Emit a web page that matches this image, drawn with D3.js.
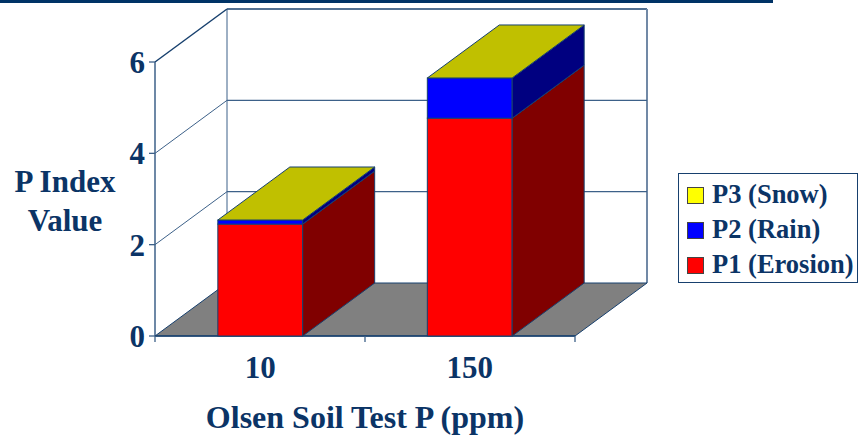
<!DOCTYPE html>
<html>
<head>
<meta charset="utf-8">
<script src="https://cdn.jsdelivr.net/npm/d3@7"></script>
<style>
  html, body { margin: 0; padding: 0; background: #fff; }
  svg { display: block; }
</style>
</head>
<body>
<svg id="chart" width="859" height="437"></svg>
<script>
// Olsen soil test P categories and stacked P index components
const categories = ["10", "150"];
const seriesNames = ["P1 (Erosion)", "P2 (Rain)", "P3 (Snow)"];
const p1Erosion = [2.45, 4.77];
const p2Rain = [0.09, 0.88];
const p3Snow = [0.0, 0.0];
const yTicks = [0, 2, 4, 6];

const seriesValues = [p1Erosion, p2Rain, p3Snow];
const frontColors = ["#ff0000", "#0000ff", "#ffff00"];
const sideColors = ["#800000", "#000080", "#808000"];
const topColors = ["#c00000", "#0000c0", "#c0c000"];

const svg = d3.select("#chart");
const textFill = "#0b3466";
const ink = "#17406e";
const grid = "#3d6189";

// front plane of the plot and the depth offset of the 3-D box
const x0 = 155, x1 = 575, yBase = 336, yTop = 62;
const dx = 72, dy = -53;

const y = d3.scaleLinear().domain([0, 6]).range([yBase, yTop]);
const x = d3.scaleBand().domain(categories).range([x0, x1])
  .paddingInner(0.595).paddingOuter(0.3);
const xEdge = d3.scaleLinear().domain([0, categories.length]).range([x0, x1]);

function label(px, py, size, anchor, str) {
  return svg.append("text").attr("x", px).attr("y", py)
    .style("font-family", "Liberation Serif")
    .style("font-weight", "bold")
    .style("font-size", size + "px")
    .style("fill", textFill)
    .attr("text-anchor", anchor).text(str);
}

// top rule
svg.append("rect").attr("x", 0).attr("y", 0).attr("width", 773).attr("height", 3).attr("fill", "#003366");

const pt = (px, py) => px + "," + py;

// back wall
svg.append("line").attr("x1", x0 + dx).attr("y1", y(6) + dy).attr("x2", x1 + dx).attr("y2", y(6) + dy)
  .attr("stroke", ink).attr("stroke-width", 1.5);
svg.append("line").attr("x1", x1 + dx).attr("y1", y(6) + dy).attr("x2", x1 + dx).attr("y2", y(0) + dy)
  .attr("stroke", "#7189a6").attr("stroke-width", 2);
svg.append("line").attr("x1", x0 + dx).attr("y1", y(6) + dy).attr("x2", x0 + dx).attr("y2", y(0) + dy)
  .attr("stroke", grid).attr("stroke-width", 1);

// gridlines: across the back wall and along the left wall
yTicks.filter(t => t > 0 && t < 6).forEach(t => {
  svg.append("line").attr("x1", x0 + dx).attr("y1", y(t) + dy).attr("x2", x1 + dx).attr("y2", y(t) + dy)
    .attr("stroke", grid).attr("stroke-width", 1.3);
});
yTicks.filter(t => t > 0).forEach(t => {
  svg.append("line").attr("x1", x0).attr("y1", y(t)).attr("x2", x0 + dx).attr("y2", y(t) + dy)
    .attr("stroke", t === 6 ? ink : grid).attr("stroke-width", t === 6 ? 1.5 : 1);
});

// floor
svg.append("polygon")
  .attr("points", [pt(x0, y(0)), pt(x0 + dx, y(0) + dy), pt(x1 + dx, y(0) + dy), pt(x1, y(0))].join(" "))
  .attr("fill", "#808080").attr("stroke", ink).attr("stroke-width", 1);

// vertical value axis with ticks
svg.append("line").attr("x1", x0).attr("y1", y(6)).attr("x2", x0).attr("y2", y(0))
  .attr("stroke", grid).attr("stroke-width", 1.5);
svg.append("line").attr("x1", x0).attr("y1", y(0)).attr("x2", x1).attr("y2", y(0))
  .attr("stroke", ink).attr("stroke-width", 1.5);
yTicks.forEach(t => {
  svg.append("line").attr("x1", x0 - 6).attr("y1", y(t)).attr("x2", x0).attr("y2", y(t))
    .attr("stroke", grid).attr("stroke-width", 1.3);
  label(145, y(t) + 11, 31, "end", t);
});
d3.range(categories.length + 1).forEach(i => {
  svg.append("line").attr("x1", xEdge(i)).attr("y1", y(0)).attr("x2", xEdge(i)).attr("y2", y(0) + 6)
    .attr("stroke", grid).attr("stroke-width", 1.3);
});

// stacked 3-D bars
categories.forEach((c, i) => {
  const bx = x(c), bw = x.bandwidth();
  let base = 0;
  const g = svg.append("g");
  seriesValues.forEach((vals, s) => {
    const top = base + vals[i];
    if (vals[i] > 0) {
      g.append("rect").attr("x", bx).attr("y", y(top)).attr("width", bw).attr("height", y(base) - y(top))
        .attr("fill", frontColors[s]).attr("stroke", ink).attr("stroke-width", 1);
      g.append("polygon")
        .attr("points", [pt(bx + bw, y(base)), pt(bx + bw + dx, y(base) + dy),
                         pt(bx + bw + dx, y(top) + dy), pt(bx + bw, y(top))].join(" "))
        .attr("fill", sideColors[s]).attr("stroke", ink).attr("stroke-width", 1);
    }
    base = top;
  });
  const last = seriesValues.length - 1;
  g.append("polygon")
    .attr("points", [pt(bx, y(base)), pt(bx + dx, y(base) + dy),
                     pt(bx + bw + dx, y(base) + dy), pt(bx + bw, y(base))].join(" "))
    .attr("fill", topColors[last]).attr("stroke", ink).attr("stroke-width", 1);

  label(bx + bw / 2, 378, 31, "middle", c);
});

// axis titles
label(65, 192, 31, "middle", "P Index");
label(65, 231, 31, "middle", "Value");
label(365, 428, 32, "middle", "Olsen Soil Test P (ppm)");

// legend
const legend = svg.append("g");
legend.append("rect").attr("x", 678.5).attr("y", 173.5).attr("width", 179).attr("height", 109)
  .attr("fill", "#fff").attr("stroke", ink).attr("stroke-width", 1);
const legendOrder = [2, 1, 0];
legendOrder.forEach((s, k) => {
  const by = 203 + k * 35;
  legend.append("rect").attr("x", 687.5).attr("y", by - 15.5).attr("width", 16).attr("height", 16)
    .attr("fill", frontColors[s]).attr("stroke", "#444").attr("stroke-width", 1);
  label(712, by, 26.5, "start", seriesNames[s]);
});
</script>
</body>
</html>
